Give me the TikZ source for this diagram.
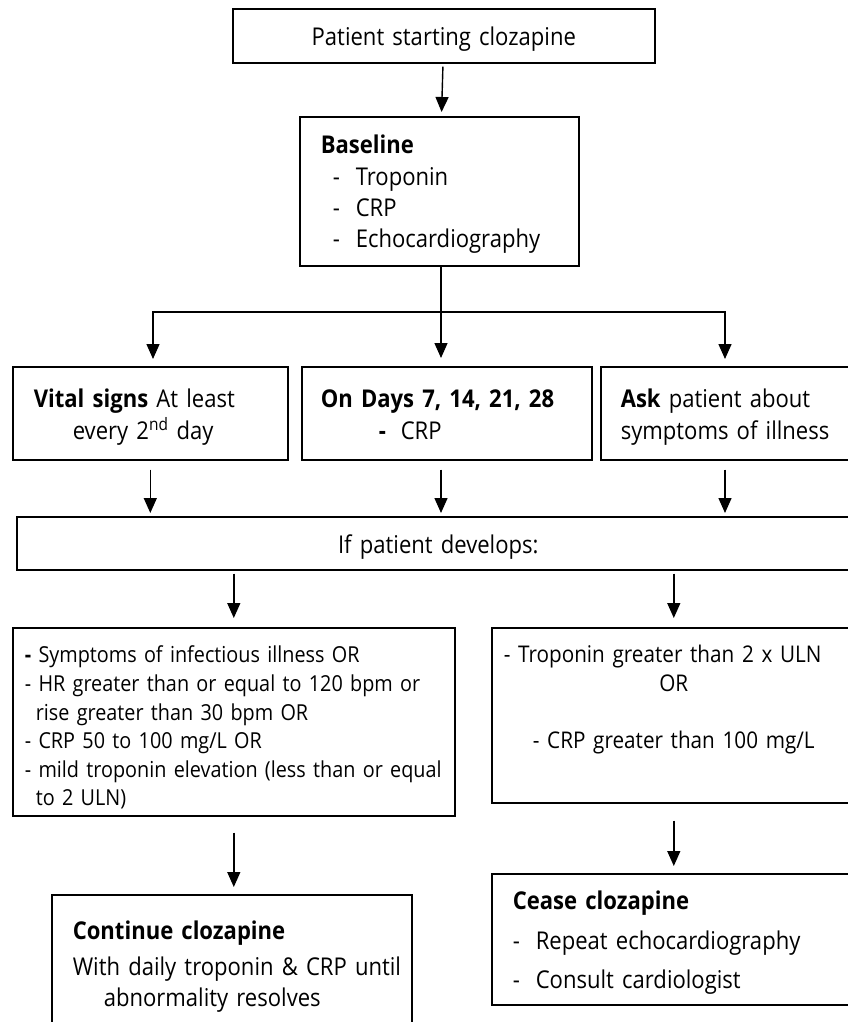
\documentclass[tikz,border=0pt]{standalone}
\usepackage{fontspec}
\setmainfont{Open Sans}[FakeStretch=0.9]
\usetikzlibrary{arrows.meta}

\newcommand{\bodyfont}{\fontsize{24.5}{31.3}\selectfont}
\newcommand{\smallbody}{\fontsize{22}{28.6}\selectfont}
\newcommand{\midbody}{\fontsize{23}{28.6}\selectfont}
\newcommand{\contfont}{\fontsize{24.5}{31}\selectfont}
\newcommand{\ceasefont}{\fontsize{24.5}{39.5}\selectfont}
\newcommand{\dashrow}[1]{\makebox[23pt][l]{-}#1}
\newcommand{\rowtext}[2]{\hspace*{#1}\mbox{#2}}

\tikzset{
  panel/.style={draw, line width=1.6pt, anchor=north west, inner sep=0pt, align=left, font=\bodyfont},
  link/.style={line width=1.4pt},
  flow/.style={link, -{Triangle[length=15pt,width=13pt]}},
}

\begin{document}
\begin{tikzpicture}[x=1pt,y=-1pt]
	\useasboundingbox (0,0) rectangle (848,1022);
	\clip (0,0) rectangle (848,1022);

	% boxes, placed by their top left corner
	\node [panel, text width=422pt, align=center, text height=37pt, text depth=17pt](start) at (232,8) {Patient starting clozapine};
	\node [panel, text width=279pt, text height=37pt, text depth=112pt](base) at (299,116)
		{\rowtext{21pt}{\textbf{Baseline}}\\
		 \rowtext{33pt}{\dashrow{Troponin}}\\
		 \rowtext{33pt}{\dashrow{CRP}}\\
		 \rowtext{33pt}{\dashrow{Echocardiography}}};

	\node [panel, text width=275pt, text height=41pt, text depth=52pt](vital) at (12,366)
		{\rowtext{21pt}{\textbf{Vital signs} At least}\\
		 \rowtext{60pt}{every 2\textsuperscript{nd} day}};
	\node [panel, text width=290pt, text height=41pt, text depth=52pt](days) at (301,366)
		{\rowtext{19pt}{\textbf{On Days 7, 14, 21, 28}}\\
		 \rowtext{77pt}{\makebox[22pt][l]{\textbf{-}}CRP}};
	\node [panel, text width=255pt, text height=41pt, text depth=52pt](ask) at (600,366)
		{\rowtext{20pt}{\textbf{Ask} patient about}\\
		 \rowtext{20pt}{symptoms of illness}};

	\node [panel, text width=843pt, align=center, text height=37pt, text depth=16pt](develops) at (16,516) {If patient develops:};

	\node [panel, font=\smallbody, text width=442pt, text height=35pt, text depth=153pt](mild) at (12,627)
		{\rowtext{12pt}{\textbf{-} Symptoms of infectious illness OR}\\
		 \rowtext{12pt}{- HR greater than or equal to 120 bpm or}\\
		 \rowtext{23pt}{rise greater than 30 bpm OR}\\
		 \rowtext{12pt}{- CRP 50 to 100 mg/L OR}\\
		 \rowtext{12pt}{- mild troponin elevation (less than or equal}\\
		 \rowtext{23pt}{to 2 ULN)}};
	\node [panel, font=\midbody, text width=364pt, text height=35pt, text depth=140pt](severe) at (491,627)
		{\rowtext{12pt}{- Troponin greater than 2 x ULN}\\
		 \makebox[\linewidth]{OR}\\[28.6pt]
		 \makebox[\linewidth]{- CRP greater than 100 mg/L}};

	\node [panel, font=\contfont, text width=360pt, text height=45pt, text depth=146pt](cont) at (51,894)
		{\rowtext{21pt}{\textbf{Continue clozapine}}\\[5pt]
		 \rowtext{21pt}{With daily troponin \& CRP until}\\
		 \rowtext{52pt}{abnormality resolves}};
	\node [panel, font=\ceasefont, text width=364pt, text height=36pt, text depth=95pt](cease) at (491,873)
		{\rowtext{21pt}{\textbf{Cease clozapine}}\\
		 \rowtext{21pt}{\dashrow{Repeat echocardiography}}\\
		 \rowtext{21pt}{\dashrow{Consult cardiologist}}};

	% arrows
	\draw [flow, shorten <=3pt, shorten >=4pt](start)--(base);

	\coordinate (fork) at (441,312);
	\coordinate (forkL) at (153,312);
	\coordinate (forkR) at (725,312);
	\draw [link](base.south -| fork)--(fork);
	\draw [link, line cap=rect](forkL)--(forkR);
	\draw [flow, shorten >=7pt](forkL)--(forkL |- vital.north);
	\draw [flow, shorten >=8pt](fork)--(fork |- days.north);
	\draw [flow, shorten >=7pt](forkR)--(forkR |- ask.north);

	\draw [flow, shorten <=9pt, shorten >=3pt](vital.south)--(vital.south |- develops.north);
	\draw [flow, shorten <=9pt, shorten >=3pt](fork |- days.south)--(fork |- develops.north);
	\draw [flow, shorten <=9pt, shorten >=3pt](forkR |- ask.south)--(forkR |- develops.north);

	\draw [flow, shorten <=3pt, shorten >=9pt](mild.north |- develops.south)--(mild.north);
	\draw [flow, shorten <=3pt, shorten >=9pt](severe.north |- develops.south)--(severe.north);

	\draw [flow, shorten <=16pt, shorten >=7pt](mild.south)--(mild.south |- cont.north);
	\draw [flow, shorten <=17pt, shorten >=7pt](severe.south)--(cease.north);
\end{tikzpicture}
\end{document}
